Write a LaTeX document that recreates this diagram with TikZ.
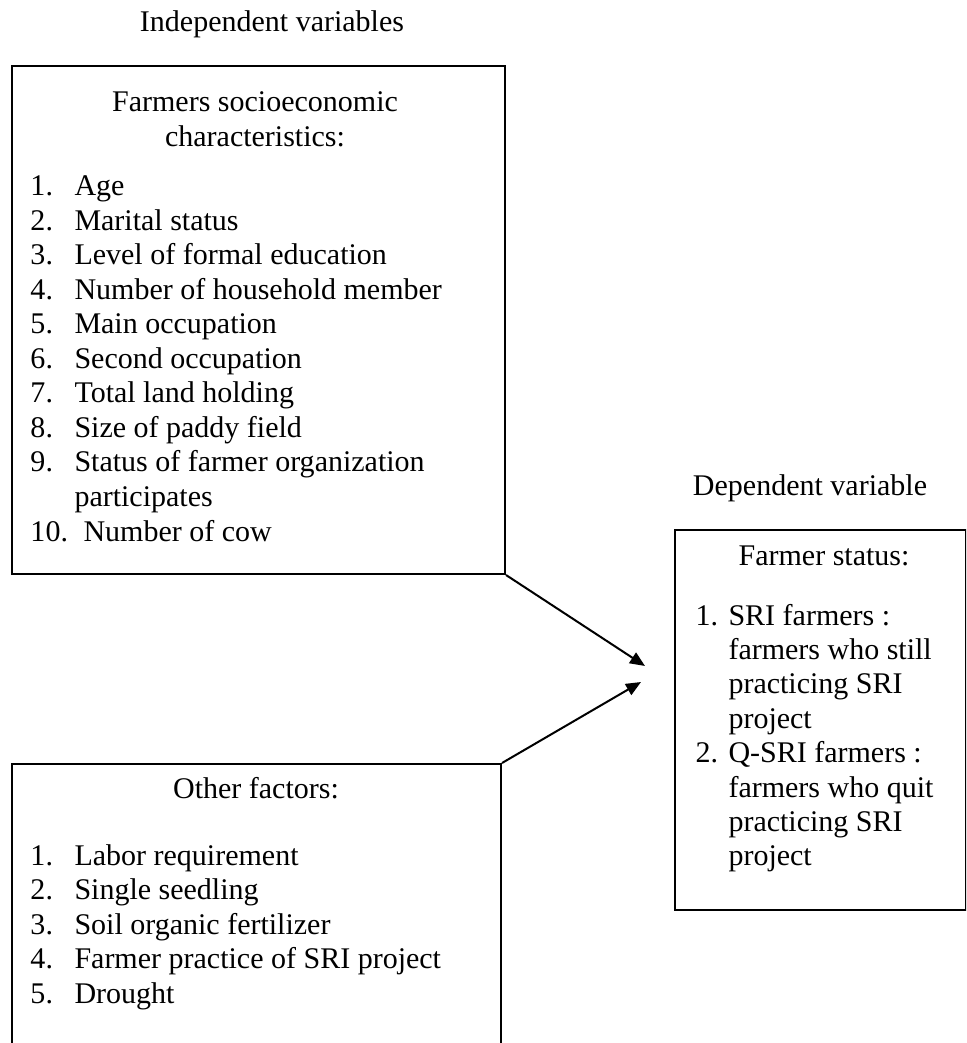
\documentclass[tikz,border=0pt]{standalone}
\usepackage{fontspec}
\setmainfont{Liberation Serif}
\usetikzlibrary{arrows.meta,positioning}

\begin{document}
\begin{tikzpicture}[x=0.4pt,y=-0.4pt,>={Triangle[length=6pt,width=5pt]},
  box/.style={draw,line width=0.8pt,inner sep=0pt,anchor=north west},
  txt/.style={inner sep=0pt,anchor=base west,font=\fontsize{12pt}{13.8pt}\selectfont},
  ttl/.style={txt,anchor=base}]
\useasboundingbox (0,0) rectangle (966,1043);
\clip (0,0) rectangle (966,1043);
% frames
\node[box,minimum width=197.2pt,minimum height=203.2pt] (soc) at (11,65) {};
\node[box,minimum width=195.6pt,minimum height=122.8pt] (oth) at (11,763) {};
\node[box,minimum width=116.4pt,minimum height=152pt] (stat) at (674,529) {};
% headings
\node[ttl] (indep) at (272,32) {Independent variables};
\node[ttl] (dep) at (810,495) {Dependent variable};
\node[ttl] (soch1) at (255,112) {Farmers socioeconomic};
\node[ttl] (soch2) at (255,147) {characteristics:};
\node[ttl] (othh) at (256,798) {Other factors:};
\node[ttl] (stath) at (824,565) {Farmer status:};
% socioeconomic list
\foreach \n/\t [count=\k from 0] in {1/Age,2/Marital status,3/Level of formal education,
  4/Number of household member,5/Main occupation,6/Second occupation,
  7/Total land holding,8/Size of paddy field,9/Status of farmer organization}{
  \node[txt] (socn\n) at (30,{196+34.5*\k}) {\n.};
  \node[txt] (soct\n) at (74,{196+34.5*\k}) {\t};
}
\node[txt] (soct9b) at (74,{196+34.5*9}) {participates};
\node[txt] (socn10) at (30,{196+34.5*10}) {10.};
\node[txt] (soct10) at (83,{196+34.5*10}) {Number of cow};
% other factors list
\foreach \n/\t [count=\k from 0] in {1/Labor requirement,2/Single seedling,
  3/Soil organic fertilizer,4/Farmer practice of SRI project,5/Drought}{
  \node[txt] (othn\n) at (30,{865+34.5*\k}) {\n.};
  \node[txt] (otht\n) at (74,{865+34.5*\k}) {\t};
}
% farmer status list
\node[txt] (statn1) at (695,625) {1.};
\node[txt] (statn2) at (695,{625+34.4*4}) {2.};
\foreach \t [count=\k from 0] in {SRI farmers :,farmers who still,practicing SRI,project,
  Q-SRI farmers :,farmers who quit,practicing SRI,project}
  \node[txt] (statt\k) at (728,{625+34.4*\k}) {\t};
% arrows
\coordinate (tipA) at (645,666);
\coordinate (tipB) at (641,682);
\draw[->,line width=0.8pt] (soc.south east) -- (tipA);
\draw[->,line width=0.8pt] (oth.north east) -- (tipB);
\end{tikzpicture}
\end{document}
